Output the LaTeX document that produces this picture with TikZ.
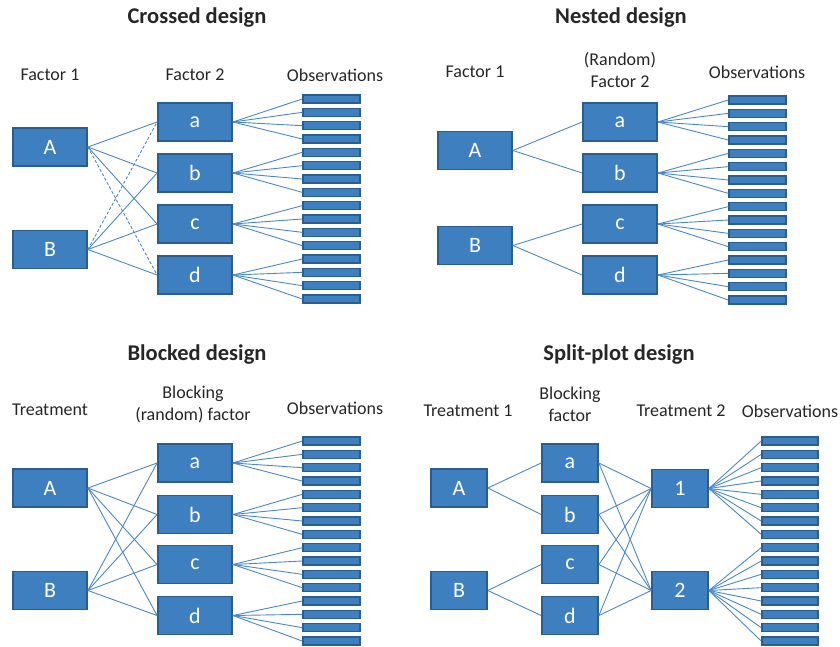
\documentclass[tikz,border=0pt]{standalone}
\usepackage{fontspec}
\setmainfont{Carlito}
\definecolor{boxfill}{HTML}{3E7FC0}
\definecolor{boxborder}{HTML}{2B5E8E}
\definecolor{linecol}{HTML}{4A88CA}
\definecolor{txt}{HTML}{262626}
\tikzset{
  box/.style={draw=boxborder, fill=boxfill, line width=1.8pt, minimum width=74pt, minimum height=38pt, text=white, font=\fontsize{22}{24}\selectfont, inner sep=0pt},
  sbox/.style={box, minimum width=56pt},
  obs/.style={draw=boxborder, fill=boxfill, line width=1.6pt, minimum width=57pt, minimum height=8pt, inner sep=0pt},
  link/.style={draw=linecol, line width=0.9pt},
  dlink/.style={link, dash pattern=on 3pt off 2pt},
  title/.style={font=\bfseries\fontsize{22.5}{26}\selectfont, text=txt},
  lab/.style={font=\fontsize{18}{22}\selectfont, text=txt, align=center},
}
\begin{document}
\begin{tikzpicture}[x=1pt,y=-1pt]
\useasboundingbox (0,0) rectangle (840,646);

% ===== Crossed design =====
\node[title] (ct) at (197,18) {Crossed design};
\node[lab] (cl1) at (50,75) {Factor 1};
\node[lab] (cl2) at (195,75) {Factor 2};
\node[lab] (cl3) at (335,75) {Observations};
\node[box] (cA) at (50,147) {A};
\node[box] (cB) at (50,249.5) {B};
\node[box] (ca) at (195,122) {a};
\node[box] (cb) at (195,173) {b};
\node[box] (cc) at (195,224) {c};
\node[box] (cd) at (195,275) {d};
\foreach \i in {1,...,16} \node[obs] (co\i) at (331.5,{99+(\i-1)*13.333}) {};
\draw[link] (cA.east) -- (ca.west);
\draw[link] (cA.east) -- (cb.west);
\draw[link] (cA.east) -- (cc.west);
\draw[dlink] (cA.east) -- (cd.west);
\draw[dlink] (cB.east) -- (ca.west);
\draw[link] (cB.east) -- (cb.west);
\draw[link] (cB.east) -- (cc.west);
\draw[link] (cB.east) -- (cd.west);
\foreach \p [count=\k from 0] in {a,b,c,d}
  \foreach \j in {1,...,4} {
    \pgfmathtruncatemacro\n{4*\k+\j}
    \draw[link] (c\p.east) -- (co\n.west);
  }

% ===== Nested design =====
\node[title] (nt) at (621,18) {Nested design};
\node[lab] (nl1) at (475,72) {Factor 1};
\node[lab] (nl2) at (620,70) {(Random)\\Factor 2};
\node[lab] (nl3) at (757,72) {Observations};
\node[box] (nA) at (475,150.5) {A};
\node[box] (nB) at (475,245.5) {B};
\node[box] (na) at (620,122) {a};
\node[box] (nb) at (620,173) {b};
\node[box] (nc) at (620,224) {c};
\node[box] (nd) at (620,275) {d};
\foreach \i in {1,...,16} \node[obs] (no\i) at (757.5,{100+(\i-1)*13.333}) {};
\draw[link] (nA.east) -- (na.west);
\draw[link] (nA.east) -- (nb.west);
\draw[link] (nB.east) -- (nc.west);
\draw[link] (nB.east) -- (nd.west);
\foreach \p [count=\k from 0] in {a,b,c,d}
  \foreach \j in {1,...,4} {
    \pgfmathtruncatemacro\n{4*\k+\j}
    \draw[link] (n\p.east) -- (no\n.west);
  }

% ===== Blocked design =====
\node[title] (bt) at (197,355) {Blocked design};
\node[lab] (bl1) at (50,410) {Treatment};
\node[lab] (bl2) at (193,404) {Blocking\\(random) factor};
\node[lab] (bl3) at (335,408) {Observations};
\node[box] (bA) at (50,488) {A};
\node[box] (bB) at (50,590.5) {B};
\node[box] (ba) at (195,463) {a};
\node[box] (bb) at (195,514.5) {b};
\node[box] (bc) at (195,564.5) {c};
\node[box] (bd) at (195,615.5) {d};
\foreach \i in {1,...,16} \node[obs] (bo\i) at (331.5,{441+(\i-1)*13.333}) {};
\foreach \s in {A,B}
  \foreach \p in {a,b,c,d}
    \draw[link] (b\s.east) -- (b\p.west);
\foreach \p [count=\k from 0] in {a,b,c,d}
  \foreach \j in {1,...,4} {
    \pgfmathtruncatemacro\n{4*\k+\j}
    \draw[link] (b\p.east) -- (bo\n.west);
  }

% ===== Split-plot design =====
\node[title] (st) at (619,355) {Split-plot design};
\node[lab] (sl1) at (468,411) {Treatment 1};
\node[lab] (sl2) at (570,404) {Blocking\\factor};
\node[lab] (sl3) at (681,411) {Treatment 2};
\node[lab] (sl4) at (790,411) {Observations};
\node[sbox] (sA) at (459,488) {A};
\node[sbox] (sB) at (459,590.5) {B};
\node[sbox] (sa) at (570,463) {a};
\node[sbox] (sb) at (570,514.5) {b};
\node[sbox] (sc) at (570,564.5) {c};
\node[sbox] (sd) at (570,615.5) {d};
\node[sbox] (s1) at (680,488.5) {1};
\node[sbox] (s2) at (680,590.5) {2};
\foreach \i in {1,...,16} \node[obs, minimum width=56pt] (so\i) at (790,{441+(\i-1)*13.333}) {};
\draw[link] (sA.east) -- (sa.west);
\draw[link] (sA.east) -- (sb.west);
\draw[link] (sB.east) -- (sc.west);
\draw[link] (sB.east) -- (sd.west);
\foreach \p in {a,b,c,d} {
  \draw[link] (s\p.east) -- (s1.west);
  \draw[link] (s\p.east) -- (s2.west);
}
\foreach \j in {1,...,8} \draw[link] (s1.east) -- (so\j.west);
\foreach \j in {9,...,16} \draw[link] (s2.east) -- (so\j.west);
\end{tikzpicture}
\end{document}
